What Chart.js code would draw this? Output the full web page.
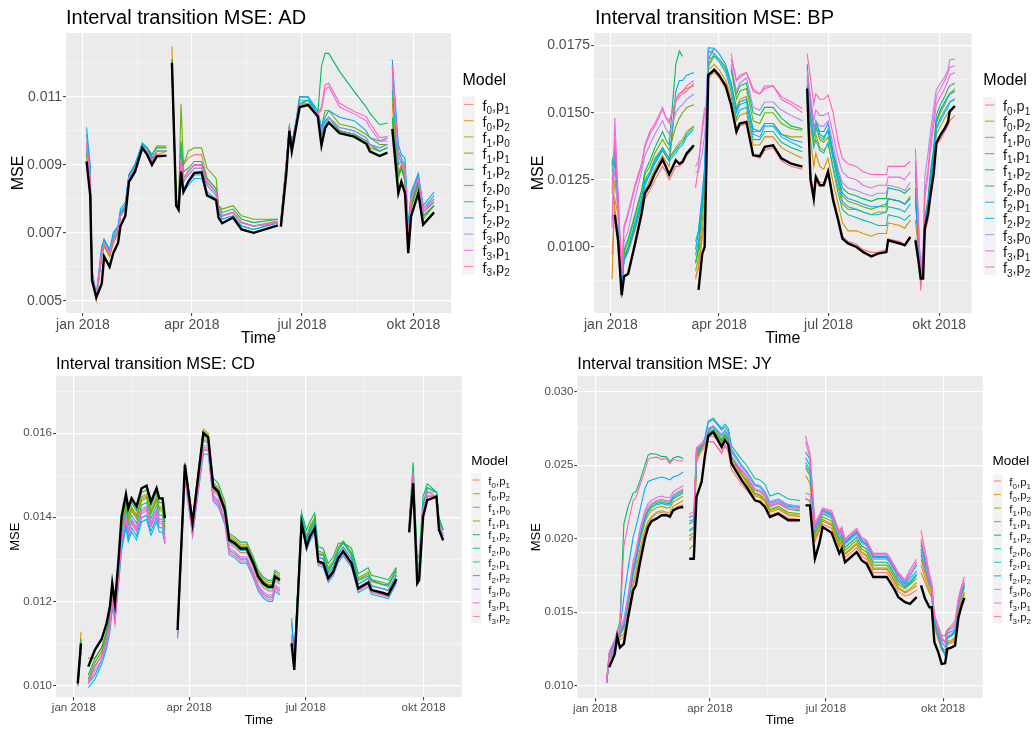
<!DOCTYPE html>
<html>
<head>
<meta charset="utf-8">
<script src="https://cdn.jsdelivr.net/npm/chart.js@4.4.1/dist/chart.umd.min.js"></script>
<style>
  body { margin: 0; background: #fff; width: 1035px; height: 729px; overflow: hidden; position: relative; }
  .panel { position: absolute; }
</style>
</head>
<body>
<div class="panel" style="left:0;top:0"><canvas id="chartAD" width="517" height="350"></canvas></div>
<div class="panel" style="left:517px;top:0"><canvas id="chartBP" width="518" height="350"></canvas></div>
<div class="panel" style="left:0;top:350px"><canvas id="chartCD" width="517" height="379"></canvas></div>
<div class="panel" style="left:517px;top:350px"><canvas id="chartJY" width="518" height="379"></canvas></div>
<script>
// x values are days since 1 jan 2018; null marks a break in the lines
const X_TICK_DAYS = [0, 90, 181, 273];
const X_TICK_LABELS = ['jan 2018', 'apr 2018', 'jul 2018', 'okt 2018'];
const X_MINOR_DAYS = [45, 135.5, 227];

const MODEL_F = ['0', '0', '1', '1', '1', '2', '2', '2', '3', '3', '3'];
const MODEL_P = ['1', '2', '0', '1', '2', '0', '1', '2', '0', '1', '2'];
const MODEL_COLORS = ['#F8766D', '#DB8E00', '#AEA200', '#64B200', '#00BD5C', '#00C1A7',
                      '#00BADE', '#00A6FF', '#B385FF', '#EF67EB', '#FF63B6'];

// ---- AD ----
const AD_Y_TICKS = [0.005, 0.007, 0.009, 0.011];
const AD_Y_MINOR = [0.006, 0.008, 0.010, 0.012];
const AD_DAYS = [3,6,7.5,11,15.5,17.5,22,25,29,31,35,38,43,49,53,57,61,69, 71,
  73.5,77,79,81,83,87,92,98,102.5,110,112,115,124,131,141,161, 162.5,
  163.5,168,170.5,172.5,176.5,179,186,194,197,200,203,212,224,234,237,245,251.5, 253.5,
  255.5,260.5,263,266,268.7,271,277,281,290];
const AD_BLACK = [.0091,.0081,.0056,.0051,.0055,.0063,.0060,.0064,.0067,.0072,.0075,.0085,.0088,.0095,.0093,.0090,.00925,.00927,null,
  .0120,.0078,.00768,.0088,.0082,.0085,.00876,.00878,.0081,.00796,.00745,.00728,.00745,.0071,.0070,.00722,null,
  .00718,.00875,.0100,.0094,.0102,.0107,.01076,.01042,.00957,.01008,.01025,.00993,.00983,.00962,.0094,.00926,.00936,null,
  .01006,.00817,.0085,.00817,.0064,.00748,.00817,.00724,.0076];
const AD_F0P1 = [.0094,.0085,.0058,.0051,.0064,.0067,.0064,.0067,.0070,.0075,.0077,.0086,.0089,.0096,.0094,.0091,.0094,.0094,null,
  .0119,.0079,.0078,.0093,.0090,.0092,.0093,.0093,.0086,.0083,.0077,.0075,.0076,.0073,.0072,.00735,null,
  .0073,.0089,.0101,.0095,.0103,.0108,.0108,.0104,.0099,.0102,.0104,.0100,.0099,.0097,.0095,.0094,.0095,null,
  .0114,.0088,.0090,.0087,.0068,.0079,.0085,.0076,.0079];
const AD_F0P2 = [.0093,.0084,.0057,.0050,.0063,.0066,.0063,.0067,.0070,.0075,.0077,.0086,.0089,.0095,.0094,.0091,.0093,.0094,null,
  .01248,.0079,.0078,.0094,.0086,.0088,.0090,.0090,.0085,.0082,.0077,.0075,.0076,.0073,.0072,.0073,null,
  .0073,.0090,.01015,.0095,.0103,.0108,.0109,.0105,.0099,.0102,.0104,.0100,.0099,.0097,.0096,.0094,.0095,null,
  .0108,.0087,.0090,.0086,.0067,.0078,.0085,.0075,.0078];
const AD_F1P0 = [.0093,.0084,.0057,.0051,.0063,.0066,.0063,.0067,.0070,.0075,.0077,.0086,.0089,.0095,.0094,.0091,.0094,.0094,null,
  .0119,.0079,.0078,.0092,.0086,.0088,.0090,.0090,.0085,.0082,.0077,.0075,.0076,.0073,.0072,.0073,null,
  .0073,.0089,.0101,.0095,.0103,.0108,.0108,.0105,.0099,.0102,.0104,.0100,.0099,.0097,.0095,.0094,.0095,null,
  .0110,.0087,.0089,.0086,.0067,.0078,.0084,.0075,.0078];
const AD_F1P1 = [.0094,.0085,.0058,.0051,.0063,.0067,.0064,.0068,.0071,.0075,.0078,.0087,.0090,.0096,.0095,.0093,.00955,.00955,null,
  .0121,.0080,.0078,.0108,.0090,.0094,.0095,.0095,.0089,.0086,.0078,.0077,.0078,.0075,.0074,.0074,null,
  .0074,.0091,.0101,.0096,.0103,.0108,.0108,.0105,.0101,.0106,.0106,.0102,.0101,.0099,.0098,.0096,.0096,null,
  .0103,.0086,.0089,.0085,.0066,.0077,.0084,.0074,.0078];
const AD_F1P2 = [.0094,.0085,.0058,.0051,.0064,.0067,.0064,.0068,.0071,.0075,.0078,.0087,.0090,.0096,.0095,.0093,.0095,.0095,null,
  .0121,.0080,.0078,.0097,.0088,.0089,.0091,.0091,.0086,.0083,.0078,.0076,.0077,.0074,.0073,.0074,null,
  .0074,.0090,.0101,.0096,.0103,.0108,.0109,.0105,.0119,.01228,.01228,.01175,.01116,.0107,.01052,.01018,.01023,null,
  .0104,.0087,.0089,.0086,.0067,.0078,.0085,.0075,.0078];
const AD_F2P0 = [.0095,.0086,.0058,.0051,.0064,.0068,.0065,.0068,.0071,.0076,.0078,.0087,.0090,.00965,.0095,.0092,.0094,.0094,null,
  .0120,.0079,.0077,.0091,.0085,.0087,.0089,.0089,.0084,.0081,.0076,.0075,.0076,.0073,.0072,.0073,null,
  .0073,.0090,.0101,.0096,.0103,.0109,.0109,.0105,.0099,.0102,.0104,.0100,.0099,.0097,.0096,.0094,.0095,null,
  .0112,.0090,.0091,.0089,.0069,.0080,.0086,.0076,.0079];
const AD_F2P1 = [.0099,.0088,.0059,.0051,.0065,.0068,.0065,.0069,.0072,.0076,.0078,.0087,.0090,.0096,.0095,.0092,.0094,.0094,null,
  .0119,.0078,.0077,.0090,.0083,.0085,.0087,.0087,.0082,.0080,.0076,.0074,.0075,.0072,.0071,.0073,null,
  .0073,.0091,.0101,.0096,.0104,.0110,.0110,.0105,.0100,.0103,.0104,.0101,.0100,.0098,.0096,.0095,.0096,null,
  .0118,.0094,.0092,.0090,.0071,.0081,.0087,.0077,.0081];
const AD_F2P2 = [.0101,.0090,.0059,.0052,.0066,.0068,.0065,.0070,.0072,.0077,.0079,.0087,.0090,.0096,.0095,.0092,.0094,.0094,null,
  .0119,.0078,.0077,.0089,.0082,.0084,.0086,.0086,.0081,.0080,.0076,.0074,.0075,.0072,.0071,.0073,null,
  .0073,.0091,.0101,.0096,.0104,.0110,.0110,.0106,.0101,.0104,.0106,.0104,.0103,.0100,.0098,.0097,.00978,null,
  .0121,.0096,.0093,.0092,.0072,.0082,.00875,.0078,.0082];
const AD_F3P0 = [.0095,.0085,.0058,.0051,.0064,.0067,.0064,.0068,.0071,.0075,.0077,.0086,.0089,.0095,.0094,.0091,.0094,.0094,null,
  .0119,.0079,.0078,.0091,.0085,.0087,.0089,.0089,.0084,.0081,.0077,.0075,.0076,.0073,.0072,.0073,null,
  .0073,.0090,.0101,.0095,.0103,.0108,.0108,.0105,.0100,.0102,.0104,.0101,.0100,.0098,.0096,.0095,.0096,null,
  .0117,.0091,.0091,.0088,.0069,.0080,.0086,.0076,.0080];
const AD_F3P1 = [.0096,.0086,.0058,.0051,.0064,.0067,.0064,.0068,.0071,.0075,.0077,.0086,.0089,.0095,.0094,.0091,.0094,.0094,null,
  .0118,.0079,.0078,.0092,.0086,.0088,.0090,.0090,.0085,.0082,.0077,.0075,.0076,.0073,.0072,.0073,null,
  .0073,.0090,.0101,.0095,.0103,.0108,.0108,.0105,.0106,.0112,.0113,.0107,.0105,.0103,.0101,.0097,.0097,null,
  .0119,.0092,.0091,.0088,.0069,.0080,.0086,.0076,.0080];
const AD_F3P2 = [.0097,.0087,.0058,.0051,.0064,.0067,.0064,.0068,.0071,.0075,.0077,.0086,.0089,.0095,.0094,.0091,.0094,.0094,null,
  .0118,.0079,.0078,.0092,.0086,.0088,.0090,.0090,.0085,.0082,.0077,.0075,.0076,.0073,.0072,.0073,null,
  .0073,.0090,.0101,.0095,.0103,.0108,.0108,.0105,.0107,.01135,.0114,.01081,.01057,.01042,.01023,.0098,.00983,null,
  .0119,.0093,.0091,.0089,.0069,.0080,.0086,.0077,.0080];

// ---- BP ----
const BP_Y_TICKS = [0.0100, 0.0125, 0.0150, 0.0175];
const BP_Y_MINOR = [0.00875, 0.01125, 0.01375, 0.01625];
const BP_DAYS = [1,3.3,6,9,11,14.4,20,25.5,28.3,32.4,36.6,43,45.7,48.5,54,57,59.6,63,69, 69.7,
  70.4,72.9,76,78,81,86,90,95.5,100,104.4,107.2,112.7,118.3,123.8,128,134.9,141.8,150,159.3, 161,
  163.2,166,168.7,170.4,173.7,177,180.6,184.8,189,192.5,197.2,204.2,209.7,216.6,222,229.1,230.5,240.2,244.3,249, 251,
  253.2,255.4,257.6,259.6,261,263.7,265.7,268.4,270.6,274,277.6,280.3,281.7,286];
const BP_BLACK = [null,.0112,.01025,.0082,.0089,.0090,.0101,.01124,.0120,.0123,.01274,.01326,.0130,.0127,.01323,.0131,.01317,.01348,.01379,null,
  null,.0084,.00975,.0100,.0164,.0166,.0164,.0160,.0153,.0143,.0146,.01466,.01342,.01338,.01373,.01379,.0133,.0131,.01299,null,
  .0159,.0125,.0118,.0126,.0123,.0123,.0128,.01174,.0110,.01031,.01013,.0100,.00981,.00965,.00975,.00981,.01025,.01013,.01006,.01037,null,
  .01025,.0096,.00882,.00882,.0107,.01124,.01193,.01274,.01386,.01417,.01442,.01466,.01504,.01525];
const BP_F0P1 = [.0097,.0115,.0105,.0086,.0089,.0090,.0100,.0111,.0118,.0121,.0125,.0130,.0128,.0125,.0130,.0130,.0131,.0134,.0137,null,
  .0089,.0092,.0103,.0110,.0163,.0165,.0163,.0159,.0152,.0142,.0145,.0146,.0134,.0133,.0136,.0137,.0132,.0130,.0129,null,
  .0152,.0128,.0120,.0127,.0124,.0124,.0129,.0119,.0111,.0104,.0102,.0101,.0099,.0098,.0098,.0099,.0103,.0102,.0101,.0104,null,
  .0103,.0098,.0089,.0090,.0105,.0110,.0118,.0127,.0138,.0140,.0143,.0145,.0147,.0149];
const BP_F0P2 = [.0088,.0118,.0112,.0087,.0095,.0098,.0106,.0115,.0121,.0125,.0129,.0134,.0132,.0130,.0155,.0157,.0158,.0159,.0160,null,
  .0088,.0093,.0106,.0115,.0166,.0168,.0166,.0162,.0156,.0147,.0149,.0150,.0138,.0138,.0141,.0141,.0137,.0135,.0133,null,
  .0155,.0140,.0130,.0135,.0130,.0129,.0133,.0124,.0116,.0109,.0106,.0106,.0105,.0104,.0105,.0105,.0109,.0108,.0107,.0110,null,
  .0110,.0100,.0090,.0091,.0106,.0112,.0121,.0130,.0142,.0145,.0148,.0150,.0151,.0152];
const BP_F1P0 = [.0110,.0125,.0115,.0089,.0097,.0100,.0108,.0117,.0124,.0127,.0132,.0137,.0135,.0133,.0137,.0139,.0140,.0143,.0145,null,
  .0091,.0096,.0110,.0120,.0167,.0171,.0170,.0167,.0161,.0152,.0155,.0156,.0143,.0143,.0146,.0146,.0142,.0141,.0141,null,
  .0160,.0148,.0138,.0142,.0137,.0136,.0138,.0130,.0122,.0116,.0114,.0114,.0113,.0112,.0113,.0113,.0118,.0117,.0116,.0118,null,
  .0118,.0104,.0091,.0093,.0108,.0115,.0125,.0134,.0146,.0150,.0153,.0156,.0157,.0159];
const BP_F1P1 = [.0131,.0136,.0118,.0083,.0098,.0102,.0111,.0120,.0127,.0130,.0135,.0140,.0138,.0136,.0145,.0148,.0150,.0152,.0153,null,
  .0094,.0099,.0115,.0125,.0168,.0172,null,null,.0166,.0155,.0158,.0159,.0147,.0146,.0150,.0150,.0146,.0144,.01435,null,
  .0163,.0150,.0141,.0145,.0140,.0139,.0141,.0133,.0125,.0119,.0117,.0116,.0115,.0114,.0115,.0115,.0118,.0117,.0116,.0119,null,
  .0122,.0106,.0091,.0094,.0109,.0116,.0126,.0135,.0147,.0151,.0154,.0156,.0157,.0158];
const BP_F1P2 = [.0131,.0137,.0118,.0081,.0099,.0103,.0112,.0121,.0128,.0132,.0137,.0143,.0140,.0138,.0168,.0173,.0171,null,null,null,
  .0094,.0100,.0117,.0127,.0170,.0174,null,null,.0167,.0157,.0160,.0161,.0150,.0149,.0152,.0152,.0148,.0145,.0144,null,
  .0168,.0152,.0144,.0147,.0142,.0141,.0143,.0135,.0128,.0122,.0120,.0119,.0118,.0117,.0118,.0118,.0122,.0121,.0120,.0122,null,
  .0128,.0108,.0092,.0095,.0111,.0118,.0128,.0137,.0149,.0153,.0156,.0159,.0160,.0161];
const BP_F2P0 = [.0125,.0132,.0116,.0085,.0096,.0100,.0109,.0118,.0125,.0128,.0133,.0137,.0135,.0133,.0136,.0138,.0139,.0142,.0145,null,
  .0097,.0102,.0115,.0124,.0170,.0171,.0169,.0165,.0158,.0148,.0151,.0152,.0140,.0140,.0143,.0143,.0139,.0137,.01355,null,
  .0158,.0146,.0137,.0140,.0136,.0135,.0139,.0129,.0120,.0114,.0112,.0111,.0110,.0109,.0108,.0108,.0112,.0111,.0110,.0112,null,
  .0120,.0104,.0090,.0092,.0107,.0114,.0123,.0132,.0144,.0148,.0151,.0153,.0154,.0155];
const BP_F2P1 = [.0128,.0133,.0116,.0085,.0096,.0099,.0108,.0117,.0124,.0127,.0132,.0136,.0134,.0132,.0135,.0137,.0138,.0141,.0144,null,
  .0102,.0106,.0118,.0128,.0173,.0172,.0170,.0166,.0160,.0150,.0153,.0154,.0142,.0141,.0145,.0145,.0141,.0139,.0137,null,
  .0160,.0150,.0141,.0144,.0141,.0140,.0144,.0133,.0124,.0117,.0115,.0114,.0113,.0112,.0112,.0113,.0115,.0114,.0113,.0116,null,
  .0117,.0103,.0090,.0092,.0107,.0114,.0123,.0132,.0144,.0147,.0150,.0152,.0154,.0155];
const BP_F2P2 = [.0130,.0134,.0117,.0086,.0095,.0099,.0107,.0116,.0123,.0127,.0131,.0136,.0134,.0132,.0158,.0162,.0162,.0164,.0165,null,
  .0099,.0106,.0120,.0130,.01742,.0174,.0172,.0168,.0161,.0151,.0154,.0155,.0144,.0143,.0146,.0146,.0142,.0140,.0139,null,
  .0162,.0155,.0143,.0146,.0143,.0143,.0146,.0135,.0126,.0120,.0118,.0117,.0116,.0115,.0115,.0116,.0118,.0117,.0116,.0118,null,
  .0119,.0105,.0091,.0093,.0108,.0116,.0126,.0135,.0147,.0151,.0154,.0156,.0157,.0158];
const BP_F3P0 = [.0122,.0128,.0112,.0088,.0102,.0106,.0118,.0128,.0134,.0138,.0142,.0147,.0144,.0142,.0150,.0152,.0153,.0155,.0157,null,
  .0128,.0128,.0135,.0142,.0172,.0174,null,null,.0168,.0158,.0161,.0163,.0152,.0151,.0154,.0154,.0151,.0149,.0147,null,
  .0164,.0151,.0143,.0147,.0145,.0145,.0147,.0138,.0129,.0124,.0122,.0121,.0120,.0119,.0120,.0120,.0123,.0122,.0121,.0124,null,
  .0130,.0112,.0092,.0100,.0126,.0135,.0143,.0152,.01585,.0161,.01634,.0166,.01697,.0170];
const BP_F3P1 = [.0107,.0148,.0120,.0090,.0107,.0112,.0122,.0130,.0137,.0142,.0145,.0151,.0148,.0146,.0155,.0157,.0158,.0160,.0162,null,
  .0130,.0132,.0143,.0150,null,null,null,null,.0172,.0162,.0164,.0165,.0159,.0157,.0160,.0160,.0156,.0154,.01516,null,
  .0166,.0156,.0147,.0151,.0149,.0149,.0150,.0142,.0133,.0128,.0126,.0125,.0123,.0122,.0123,.0123,.0126,.0126,.0125,.0128,null,
  .01367,.0115,.0086,.0098,.0118,.0127,.0136,.0145,.0153,.0156,.0159,.0162,.0164,.0165];
const BP_F3P2 = [.0120,.0140,.0118,.0091,.0108,.0113,.0123,.0131,.0138,.0143,.0146,.0152,.01485,.0147,.0154,.0156,.0157,.0158,.0161,null,
  .0122,.0130,.0145,.0152,null,null,null,null,.0170,.0162,.0163,.0165,.0158,.0157,.0159,.0160,.0155,.0153,.0150,null,
  .0172,.0163,.0153,.0157,.0155,.0155,.01566,.0150,.0139,.0133,.0131,.0130,.0128,.0127,.0127,.0127,.0130,.0130,.0130,.0132,null,
  .0132,.0110,.00838,.0097,.0120,.0129,.0139,.0148,.0156,.0159,.0162,.0165,.0167,.01675];

// ---- CD ----
const CD_Y_TICKS = [0.010, 0.012, 0.014, 0.016];
const CD_Y_MINOR = [0.011, 0.013, 0.015, 0.017];
const CD_DAYS = [3,5.5, 8,
  11.2,16.4,21.6,25.5,28.1,29.9,32,34.6,37.2,40.6,42.4,45,48.9,52.8,56.7,60.1,64.5,66.6,69.2,71, 76,
  80.9,86.6,92.6,101,104.8,108.7,112.6,117.8,121.2,125.7,130,134.8,140,143.9,147.8,151.7,155,156.9,160.8, 165,
  169.9,172,177.7,181.6,184.2,188,190.7,194.6,198.5,202.4,206.3,210.2,216.7,221.9,229.7,232.3,241.4,245.3,251.8, 256,
  261.7,264.8,268,269.5,272.6,275.8,283,285,288.2];
const CD_BLACK = [.01005,.0110,null,
  .01045,.01085,.0111,.01148,.01188,.01243,.01196,.01291,.01402,.01455,.01422,.01445,.01426,.01469,.01475,.01437,.01469,.01445,.01445,.01398,null,
  .01132,.01525,.01386,.0160,.0159,.01473,.01461,.01418,.01346,.01338,.01326,.01326,.01291,.01259,.01243,.01235,.01235,.01259,.01251,null,
  .0110,.01037,.01386,.0133,.01354,.01374,.01295,.01291,.01255,.01271,.01303,.01319,.01291,.01231,.01245,.01227,.0122,.01216,.01253,null,
  .01364,.01481,.01243,.01251,.01402,.01441,.01449,.0137,.01345];
const CD_F0P1 = [.0100,.0109,null,
  .01015,.01055,.0108,.01118,.01158,.01213,.01166,.01261,.01352,.01405,.01372,.01395,.01376,.01419,.01425,.01387,.01419,.01395,.01395,.01348,null,
  .01122,.01515,.01376,.0159,.0158,.01463,.01451,.01408,.01336,.01328,.01316,.01316,.01281,.01249,.01233,.01225,.01225,.01249,.01241,null,
  .0112,.0105,.0139,.0134,.01364,.01384,.01305,.01301,.01265,.01281,.01313,.01329,.01301,.01241,.01255,.01237,.0123,.01226,.01263,null,
  .0137,.0150,.0125,.0126,.0141,.0145,.0145,.0138,.01355];
const CD_F0P2 = [.0100,.01128,null,
  .01065,.01065,.0109,.01128,.01168,.01243,.01176,.01271,.01382,.01435,.01402,.01425,.01406,.01449,.01455,.01417,.01449,.01425,.01425,.01378,null,
  .01142,.0153,.01396,.0161,.0160,.01483,.01471,.01428,.01356,.01348,.01336,.01336,.01301,.01269,.01253,.01245,.01245,.01269,.01261,null,
  .0111,.0106,.0140,.0135,.01374,.01394,.01315,.01311,.01275,.01291,.01323,.01339,.01311,.01251,.01265,.01247,.0124,.01236,.01273,null,
  .0138,.0150,.0127,.0128,.0142,.0147,.0146,.0139,.0137];
const CD_F1P0 = [.0100,.0111,null,
  .01065,.01065,.0109,.01128,.01168,.01223,.01176,.01271,.01372,.01425,.01392,.01415,.01396,.01439,.01445,.01407,.01439,.01415,.01415,.01368,null,
  .01137,.0153,.01391,.01605,.01595,.01478,.01466,.01423,.01351,.01343,.01331,.01331,.01296,.01264,.01248,.0124,.0124,.01264,.01256,null,
  .0111,.0106,.01395,.0135,.01374,.01394,.01315,.01311,.01275,.01291,.01323,.01339,.01311,.01251,.01265,.01247,.0124,.01236,.01273,null,
  .0138,.0150,.0127,.0128,.0142,.0146,.0146,.0139,.0137];
const CD_F1P1 = [.0101,.0110,null,
  .01015,.01055,.0108,.01118,.01158,.01213,.01166,.01261,.01377,.0143,.01397,.0142,.01401,.01444,.0145,.01412,.01444,.0142,.0142,.01373,null,
  .01135,.01527,.0139,.01603,.01593,.01478,.01466,.01423,.01351,.01343,.01331,.01331,.01296,.01264,.01248,.0124,.0124,.01264,.01256,null,
  .0111,.0106,.0140,.01355,.01379,.01399,.0132,.01316,.0128,.01296,.01328,.01344,.01316,.01256,.0127,.01252,.01245,.01241,.01278,null,
  .0138,.0151,.0128,.0129,.0143,.0147,.0146,.0139,.0137];
const CD_F1P2 = [.0101,.0111,null,
  .01025,.01065,.0109,.01128,.01168,.01223,.01176,.01271,.01392,.01445,.01412,.01435,.01416,.01459,.01465,.01427,.01459,.01435,.01435,.01388,null,
  .0114,.01527,.01396,.01595,.01588,.01493,.01481,.01438,.01361,.01353,.01341,.01341,.01306,.01274,.01258,.0125,.0125,.01274,.01266,null,
  .0111,.0106,.0141,.0137,.0139,.0141,.0133,.01326,.0129,.01306,.01338,.0134,.01326,.01266,.0128,.01262,.01255,.01251,.01281,null,
  .0139,.0153,.0130,.0131,.0145,.0148,.0146,.0140,.0137];
const CD_F2P0 = [.0100,.0110,null,
  .01005,.01045,.0107,.01108,.01148,.01203,.01156,.01251,.01362,.01415,.01382,.01405,.01386,.01429,.01435,.01397,.01429,.01405,.01405,.01358,null,
  .01132,.0152,.01386,.01585,.01575,.01468,.01456,.01413,.01341,.01333,.01321,.01321,.01286,.01254,.01238,.0123,.0123,.01254,.01246,null,
  .0112,.0106,.0141,.0135,.0137,.0139,.0131,.0131,.0127,.0129,.0132,.0134,.0131,.0125,.0126,.0125,.0124,.0124,.0127,null,
  .0138,.0151,.0128,.0129,.0143,.0147,.0146,.0139,.0137];
const CD_F2P1 = [.0100,.0108,null,
  .00995,.01015,.0105,.01088,.01128,.01183,.01156,.01231,.01322,.01375,.01342,.01365,.01346,.01389,.01395,.01357,.01389,.01365,.01365,.01338,null,
  .01112,.0149,.01356,.0155,.0155,.01438,.01426,.01383,.01311,.01303,.01291,.01291,.01256,.01224,.01208,.012,.012,.01224,.01216,null,
  .0116,.0108,.01385,.0132,.01344,.01364,.01285,.01281,.01245,.01261,.01293,.01309,.01281,.01221,.01235,.01217,.0121,.01206,.01243,null,
  .0137,.0150,.0125,.0126,.0141,.0145,.0145,.0138,.01355];
const CD_F2P2 = [.0100,.0108,null,
  .01005,.01025,.0106,.01098,.01138,.01193,.01166,.01241,.01332,.01385,.01352,.01375,.01356,.01399,.01405,.01367,.01399,.01375,.01375,.01338,null,
  .0112,.015,.01366,.0156,.0156,.01448,.01436,.01393,.01321,.01313,.01301,.01301,.01266,.01234,.01218,.0121,.0121,.01234,.01226,null,
  .0115,.0107,.0139,.0134,.01364,.01384,.01305,.01301,.01265,.01281,.01313,.01329,.01301,.01241,.01255,.01237,.0123,.01226,.01263,null,
  .0137,.0150,.0126,.0127,.0141,.0145,.0145,.0138,.0136];
const CD_F3P0 = [.0100,.0109,null,
  .01005,.01045,.0107,.01108,.01148,.01203,.01156,.01251,.01352,.01405,.01372,.01395,.01376,.01419,.01425,.01387,.01419,.01395,.01395,.01348,null,
  .01122,.0151,.01366,.0157,.0157,.01453,.01441,.01398,.01326,.01318,.01306,.01306,.01271,.01239,.01223,.01215,.01215,.01239,.01231,null,
  .0112,.0105,.0138,.0133,.0135,.0137,.0129,.0129,.01255,.0127,.0130,.0132,.0129,.0123,.01245,.01227,.0122,.01216,.01253,null,
  .0137,.0150,.0126,.0127,.0142,.0146,.0145,.0138,.0136];
const CD_F3P1 = [.0100,.0109,null,
  .01005,.01035,.0106,.01098,.01138,.01193,.01146,.01241,.01342,.01395,.01362,.01385,.01366,.01409,.01415,.01377,.01409,.01385,.01385,.01338,null,
  .0112,.015,.01356,.0156,.0156,.01443,.01431,.01388,.01316,.01308,.01296,.01296,.01261,.01229,.01213,.01205,.01205,.01229,.01221,null,
  .0112,.0105,.0138,.01325,.0135,.0137,.0129,.01286,.0125,.01266,.01298,.01314,.01286,.01226,.0124,.01222,.01215,.01211,.01248,null,
  .0137,.0151,.0126,.0127,.0142,.0146,.0145,.0138,.0135];
const CD_F3P2 = [.0100,.0109,null,
  .0101,.01045,.0107,.01108,.01148,.01203,.01156,.01251,.01347,.0140,.01367,.0139,.01371,.01414,.0142,.01382,.01414,.0139,.0139,.01343,null,
  .01115,.0150,.01361,.01565,.01565,.01448,.01436,.01393,.01321,.01313,.01301,.01301,.01266,.01234,.01218,.0121,.0121,.01234,.01226,null,
  .0111,.0104,.0138,.01325,.01349,.01369,.0129,.01286,.0125,.01266,.01298,.01314,.01286,.01226,.0124,.01222,.01215,.01211,.01248,null,
  .0137,.0150,.0125,.0126,.0141,.0145,.0145,.0138,.0135];

// ---- JY ----
const JY_Y_TICKS = [0.010, 0.015, 0.020, 0.025, 0.030];
const JY_Y_MINOR = [0.0125, 0.0175, 0.0225, 0.0275];
const JY_DAYS = [9,11,15.4,17.3,19.4,22.5,25.9,29.8,32,35,39,41.6,44.2,48.1,52.1,56,58.6,61.2,65.1,69.1, 71.5,
  73.8,77.4,79.5,83.5,86,88.7,92.6,99.2,101.8,104.4,107,114.9,118.8,125.3,129.3,133.2,137.1,143.6,151.5,160.6, 163,
  165,168.5,172.4,175.8,178.4,185.5,191.5,193.4,196,205.1,209.1,212.9,218.2,228.7,231.3,235.2,237.8,243.1,247,252.2, 254,
  255.6,258.8,262.2,264,266.1,269.2,271.8,274.5,276.3,279.7,282.3,285,287.5,289.6];
const JY_BLACK = [null,.01125,.01216,.01334,.0126,.01284,.01466,.01648,.01682,.0183,.0200,.0208,.0212,.02136,.0216,.0216,.0215,.02193,.0221,.02216,null,
  .01864,.01864,.02284,.02386,.02557,.02698,.02727,.02625,.0267,.0264,.02511,.02398,.02352,.02261,.0225,.02216,.02148,.0217,.02125,.02125,null,
  .02227,.02227,.01864,.01966,.0208,.0204,.0190,.01932,.0184,.01909,.01852,.0183,.01739,.01739,.01705,.01648,.01602,.01568,.01557,.01602,null,
  .01682,.01591,.01534,.01534,.01295,.01227,.01148,.01152,.0125,.01261,.01273,.01466,.01545,.01598];
const JY_F0P1 = [.0102,.0117,.0124,.0133,.0131,.0133,.0149,.0168,.0174,.0189,.0204,.0210,.0214,.0217,.0218,.0217,.0216,.0220,.0222,.0223,null,
  .0199,.0200,.0252,.0260,.0262,.0266,.0266,.0258,.0263,.0259,.0247,.0237,.0233,.0226,.0226,.0223,.0216,.0218,.0214,.0213,null,
  .0228,.0225,.0198,.0205,.0210,.0207,.0194,.0196,.0187,.0194,.0188,.0186,.0177,.0177,.0174,.0168,.0164,.0161,.0162,.0165,null,
  .0182,.0173,.0164,.0160,.0140,.0131,.0124,.0122,.0128,.0129,.0130,.0150,.0157,.0162];
const JY_F0P2 = [.0102,.0118,.0126,.0131,.0134,.0139,.0155,.0175,.0183,.0197,.0211,.0216,.0219,.0221,.0222,.0221,.0221,.0225,.0227,.0229,null,
  .0200,.0202,.0254,.0261,.0264,.0271,.0273,.0265,.0269,.0266,.0253,.0243,.0238,.0229,.0228,.0225,.0218,.0220,.0216,.0215,null,
  .0243,.0238,.0200,.0206,.0212,.0209,.0195,.0198,.0189,.0196,.0190,.0188,.0179,.0179,.0176,.0170,.0166,.0163,.0165,.0168,null,
  .0186,.0176,.0167,.0163,.0142,.0133,.0126,.0124,.0130,.0131,.0133,.0152,.0159,.0164];
const JY_F1P0 = [.0102,.0117,.0125,.0130,.0133,.0135,.0150,.0170,.0178,.0192,.0206,.0212,.0215,.0218,.0219,.0218,.0218,.0222,.0224,.0226,null,
  .0193,.0196,.0255,.0262,.0265,.0273,.0276,.0268,.0271,.0268,.0255,.0244,.0239,.0230,.0229,.0226,.0219,.0221,.0217,.0216,null,
  .0227,.0226,.0201,.0207,.0213,.0210,.0196,.0199,.0190,.0197,.0191,.0189,.0180,.0180,.0177,.0171,.0167,.0164,.0166,.0170,null,
  .0177,.0170,.0163,.0160,.0141,.0132,.0125,.0123,.0129,.0130,.0132,.0151,.0158,.0163];
const JY_F1P1 = [.0102,.0119,.0127,.0132,.0136,.0142,.0158,.0180,.0188,.0202,.0215,.0220,.0223,.0225,.0226,.0225,.0225,.0229,.0231,.0233,null,
  .0202,.0204,.0256,.0262,.0265,.0272,.0274,.0266,.0270,.0267,.0255,.0244,.0240,.0231,.0230,.0227,.0220,.0222,.0218,.0217,null,
  .0248,.0243,.0203,.0209,.0215,.0212,.0198,.0201,.0192,.0199,.0193,.0191,.0182,.0182,.0179,.0173,.0169,.0166,.0169,.0173,null,
  .0189,.0179,.0169,.0165,.0144,.0136,.0129,.0127,.0133,.0134,.0136,.0155,.0162,.0167];
const JY_F1P2 = [.0102,.0122,.0131,.0137,.0143,.0210,.0222,.0231,.0232,.0239,.0250,.0257,.0258,.02575,.0256,.02557,.02523,.0255,.0256,.02545,null,
  .0210,.0212,.0258,.0263,.0266,.0272,.0274,.0267,.0271,.0268,.0256,.0246,.0242,.0233,.0232,.0229,.0222,.0224,.0220,.0219,null,
  .0259,.0254,.0205,.0211,.0217,.0214,.0200,.0203,.0194,.0201,.0195,.0193,.0184,.0184,.0181,.0175,.0171,.0167,.0170,.0175,null,
  .0198,.0186,.0173,.0168,.0148,.0140,.0134,.0134,.0138,.0139,.0141,.0158,.0165,.0170];
const JY_F2P0 = [.0102,.0119,.0127,.0132,.0136,.0141,.0157,.0178,.0186,.0200,.0214,.0219,.0222,.0224,.0225,.0224,.0224,.0228,.0230,.0232,null,
  .0206,.0208,.0258,.0264,.0268,.0280,.0282,.0275,.0278,.0275,.0263,.0254,.0250,.0241,.0240,.0237,.0229,.0231,.0227,.0226,null,
  .0252,.0247,.0207,.0213,.0219,.0216,.0203,.0206,.0197,.0204,.0198,.0196,.0187,.0187,.0184,.0178,.0173,.0168,.0171,.0176,null,
  .0196,.0184,.0172,.0167,.0146,.0138,.0131,.0130,.0136,.0137,.0139,.0157,.0164,.0169];
const JY_F2P1 = [.0102,.0118,.0126,.0131,.0135,.0140,.0156,.0177,.0185,.0199,.0213,.0218,.0221,.0223,.0224,.0223,.0223,.0227,.0229,.0231,null,
  .0205,.0207,.0257,.0263,.0266,.0274,.0276,.0270,.0273,.0270,.0259,.0249,.0245,.0236,.0235,.0231,.0224,.0226,.0222,.0221,null,
  .0250,.0245,.0207,.0213,.0219,.0216,.0203,.0206,.0197,.0204,.0198,.0196,.0187,.0187,.0184,.0178,.0173,.0169,.0173,.0178,null,
  .0191,.0181,.0170,.0166,.0143,.0134,.0126,.0121,.0132,.0134,.0137,.0156,.0163,.0167];
const JY_F2P2 = [.0102,.0121,.0129,.0134,.0138,.0160,.0180,.0201,.0208,.0219,.0234,.0239,.0240,.0241,.0242,.0241,.0240,.0242,.0243,.02455,null,
  .0212,.0213,.0260,.0264,.0268,.0279,.0281,.0274,.0276,.0273,.0261,.0250,.0246,.0237,.0236,.0232,.0225,.0227,.0223,.0222,null,
  .0255,.0250,.0208,.0214,.0220,.0217,.0204,.0207,.0198,.0205,.0199,.0197,.0188,.0188,.0185,.0179,.0175,.0170,.0175,.0182,null,
  .0193,.0182,.0171,.0166,.0144,.0135,.0127,.0120,.0133,.0135,.0138,.0156,.0164,.0168];
const JY_F3P0 = [.0102,.0119,.0127,.0132,.0137,.0143,.0160,.0182,.0190,.0204,.0217,.0222,.0224,.0226,.0227,.0226,.0226,.0230,.0232,.0234,null,
  .0215,.0216,.0261,.0264,.0267,.0275,.0277,.0271,.0274,.0271,.0260,.0250,.0246,.0237,.0236,.0232,.0225,.0227,.0223,.0222,null,
  .0231,.0230,.0206,.0212,.0218,.0215,.0202,.0205,.0196,.0203,.0197,.0195,.0186,.0186,.0183,.0177,.0172,.0168,.0173,.0178,null,
  .0192,.0182,.0171,.0167,.0146,.0137,.0130,.0126,.0135,.0137,.0139,.0157,.0165,.0170];
const JY_F3P1 = [.0103,.0120,.0128,.0133,.0138,.0145,.0162,.0185,.0192,.0206,.0219,.0224,.0226,.0228,.0229,.0228,.0228,.0232,.0234,.0236,null,
  .0217,.0218,.0262,.0265,.0266,.0269,.0270,.0264,.0268,.0265,.0255,.0247,.0243,.0234,.0233,.0230,.0223,.0225,.0221,.0221,null,
  .0266,.0255,.0209,.0215,.0220,.0218,.0204,.0207,.0199,.0206,.0200,.0198,.0189,.0189,.0186,.0180,.0176,.0171,.0177,.0184,null,
  .0200,.0188,.0174,.0169,.0147,.0139,.0132,.0129,.0137,.0139,.0142,.0159,.0167,.0172];
const JY_F3P2 = [.0104,.0123,.0131,.0136,.0140,.0195,.0210,.0226,.0228,.0236,.0246,.0254,.0255,.02555,.0254,.02545,.0251,.0254,.0253,.0253,null,
  .0214,.0216,.0261,.0264,.0265,.0266,.0266,.0259,.0264,.0261,.0252,.0246,.0242,.0233,.0232,.0229,.0222,.0224,.0220,.0220,null,
  .0270,.0258,.0211,.0216,.0221,.0219,.0205,.0208,.0200,.0207,.0201,.0199,.0190,.0190,.0187,.0181,.0177,.0172,.0179,.0186,null,
  .02057,.0192,.0176,.0170,.0148,.0140,.0133,.0130,.0138,.0141,.0144,.0160,.0168,.0174];

const FONT = '"Liberation Sans", Arial, sans-serif';

// text sizes for the two rows of panels
const TOP_STYLE = { title: 20, tick: 14, axisTitle: 16, legendTitle: 16, legendText: 14.5, legendSub: 10 };
const BOTTOM_STYLE = { title: 16.5, tick: 11.5, axisTitle: 13, legendTitle: 13.5, legendText: 11.5, legendSub: 8 };

const PANELS = [
  { canvas: 'chartAD', title: 'Interval transition MSE: AD', days: AD_DAYS, black: AD_BLACK,
    series: [AD_F0P1, AD_F0P2, AD_F1P0, AD_F1P1, AD_F1P2, AD_F2P0, AD_F2P1, AD_F2P2, AD_F3P0, AD_F3P1, AD_F3P2],
    yTicks: AD_Y_TICKS, yMinor: AD_Y_MINOR, yMin: 0.00464, yMax: 0.01288, digits: 3, xMin: -14, xMax: 304,
    style: TOP_STYLE, area: { left: 66, top: 33, right: 451, bottom: 313 }, yTitlePad: 9, xTitlePad: 1.5,
    titlePos: { x: 66, y: 18.5 },
    legend: { x: 462.5, titleY: 80.5, keyW: 12.5, firstY: 104.5, step: 16.2, textX: 482.5 } },
  { canvas: 'chartBP', title: 'Interval transition MSE: BP', days: BP_DAYS, black: BP_BLACK,
    series: [BP_F0P1, BP_F0P2, BP_F1P0, BP_F1P1, BP_F1P2, BP_F2P0, BP_F2P1, BP_F2P2, BP_F3P0, BP_F3P1, BP_F3P2],
    yTicks: BP_Y_TICKS, yMinor: BP_Y_MINOR, yMin: 0.00754, yMax: 0.01797, digits: 4, xMin: -14, xMax: 300,
    style: TOP_STYLE, area: { left: 77, top: 33, right: 454.7, bottom: 313 }, yTitlePad: 12, xTitlePad: 1.5,
    titlePos: { x: 78, y: 18.5 },
    legend: { x: 466.3, titleY: 80.5, keyW: 12.5, firstY: 105, step: 16.2, textX: 486 } },
  { canvas: 'chartCD', title: 'Interval transition MSE: CD', days: CD_DAYS, black: CD_BLACK,
    series: [CD_F0P1, CD_F0P2, CD_F1P0, CD_F1P1, CD_F1P2, CD_F2P0, CD_F2P1, CD_F2P2, CD_F3P0, CD_F3P1, CD_F3P2],
    yTicks: CD_Y_TICKS, yMinor: CD_Y_MINOR, yMin: 0.00972, yMax: 0.01736, digits: 3, xMin: -14, xMax: 302.7,
    style: BOTTOM_STYLE, area: { left: 56, top: 26, right: 461.7, bottom: 347.3 }, yTitlePad: 7.5, xTitlePad: 1.2,
    titlePos: { x: 56, y: 14 },
    legend: { x: 471.3, titleY: 111, keyW: 10, firstY: 130, step: 13.65, textX: 488.3 } },
  { canvas: 'chartJY', title: 'Interval transition MSE: JY', days: JY_DAYS, black: JY_BLACK,
    series: [JY_F0P1, JY_F0P2, JY_F1P0, JY_F1P1, JY_F1P2, JY_F2P0, JY_F2P1, JY_F2P2, JY_F3P0, JY_F3P1, JY_F3P2],
    yTicks: JY_Y_TICKS, yMinor: JY_Y_MINOR, yMin: 0.00914, yMax: 0.03107, digits: 3, xMin: -14, xMax: 304,
    style: BOTTOM_STYLE, area: { left: 60.3, top: 26, right: 465.7, bottom: 348.3 }, yTitlePad: 11.4, xTitlePad: 1.2,
    titlePos: { x: 60.3, y: 14 },
    legend: { x: 475.5, titleY: 111, keyW: 10, firstY: 131, step: 13.55, textX: 492.3 } }
];

function isIn(list, v) {
  return list.some(t => Math.abs(t - v) < 1e-9);
}

function toPoints(days, values) {
  if (days.length !== values.length) console.warn('length mismatch', days.length, values.length);
  return days.map((d, i) => ({ x: d, y: values[i] }));
}

// grey panel, title and the "Model" legend in the ggplot look
const ggDecor = {
  id: 'ggDecor',
  beforeDraw(chart, args, opts) {
    const { ctx, chartArea: a } = chart;
    ctx.save();
    ctx.fillStyle = '#EBEBEB';
    ctx.fillRect(a.left, a.top, a.right - a.left, a.bottom - a.top);
    ctx.restore();
  },
  afterDraw(chart, args, opts) {
    const ctx = chart.ctx;
    const s = opts.style;
    const L = opts.legend;
    ctx.save();
    ctx.fillStyle = '#000';
    ctx.textAlign = 'left';
    ctx.textBaseline = 'middle';
    ctx.font = s.title + 'px ' + FONT;
    ctx.fillText(opts.title, opts.titlePos.x, opts.titlePos.y);

    ctx.font = s.legendTitle + 'px ' + FONT;
    ctx.fillText('Model', L.x, L.titleY);

    const n = MODEL_F.length;
    ctx.fillStyle = '#F2F2F2';
    ctx.fillRect(L.x, L.firstY - L.step / 2, L.keyW, L.step * n);

    ctx.textBaseline = 'alphabetic';
    for (let i = 0; i < n; i++) {
      const y = L.firstY + i * L.step;
      ctx.globalAlpha = 0.8;
      ctx.strokeStyle = MODEL_COLORS[i];
      ctx.lineWidth = 1.2;
      ctx.beginPath();
      ctx.moveTo(L.x + 1.5, y);
      ctx.lineTo(L.x + L.keyW - 1.5, y);
      ctx.stroke();
      ctx.globalAlpha = 1;

      // f<sub>,p<sub>
      const base = y + s.legendText * 0.42;
      const subBase = base + s.legendText * 0.26;
      let x = L.textX;
      ctx.fillStyle = '#1A1A1A';
      ctx.font = s.legendText + 'px ' + FONT;
      ctx.fillText('f', x, base); x += ctx.measureText('f').width;
      ctx.font = s.legendSub + 'px ' + FONT;
      ctx.fillText(MODEL_F[i], x, subBase); x += ctx.measureText(MODEL_F[i]).width;
      ctx.font = s.legendText + 'px ' + FONT;
      ctx.fillText(',p', x, base); x += ctx.measureText(',p').width;
      ctx.font = s.legendSub + 'px ' + FONT;
      ctx.fillText(MODEL_P[i], x, subBase);
    }
    ctx.restore();
  }
};

function buildChart(panel) {
  const el = document.getElementById(panel.canvas);
  const W = el.width, H = el.height;
  const a = panel.area;
  const s = panel.style;

  const datasets = panel.series.map((vals, i) => ({
    label: 'f' + MODEL_F[i] + ',p' + MODEL_P[i],
    data: toPoints(panel.days, vals),
    borderColor: MODEL_COLORS[i],
    borderWidth: 1.1,
    pointRadius: 0,
    tension: 0,
    spanGaps: false,
    order: MODEL_F.length - i
  }));
  datasets.push({
    label: 'f0,p0',
    data: toPoints(panel.days, panel.black),
    borderColor: '#000000',
    borderWidth: 2.4,
    pointRadius: 0,
    tension: 0,
    spanGaps: false,
    order: 0
  });

  const xAll = X_TICK_DAYS.concat(X_MINOR_DAYS).sort((p, q) => p - q);
  const yAll = panel.yTicks.concat(panel.yMinor).sort((p, q) => p - q);

  const gridStyle = (majors) => ({
    color: ctx => isIn(majors, ctx.tick.value) ? '#FFFFFF' : 'rgba(255,255,255,0.55)',
    lineWidth: ctx => isIn(majors, ctx.tick.value) ? 1.2 : 0.8,
    tickLength: 3,
    tickWidth: 1,
    tickColor: ctx => isIn(majors, ctx.tick.value) ? '#333333' : 'rgba(0,0,0,0)'
  });

  return new Chart(el, {
    type: 'line',
    data: { datasets },
    options: {
      responsive: false,
      animation: false,
      devicePixelRatio: 1,
      events: [],
      layout: { padding: { top: a.top, right: W - a.right, left: 0, bottom: 0 } },
      plugins: {
        legend: { display: false },
        title: { display: false },
        tooltip: { enabled: false },
        ggDecor: { title: panel.title, titlePos: panel.titlePos, legend: panel.legend, style: s }
      },
      scales: {
        x: {
          type: 'linear',
          min: panel.xMin,
          max: panel.xMax,
          afterBuildTicks: scale => { scale.ticks = xAll.map(v => ({ value: v })); },
          afterFit: scale => { scale.height = H - a.bottom; },
          ticks: {
            autoSkip: false, maxRotation: 0, minRotation: 0, padding: 1,
            color: '#4D4D4D', font: { family: FONT, size: s.tick },
            callback: v => {
              const k = X_TICK_DAYS.findIndex(d => Math.abs(d - v) < 1e-9);
              return k >= 0 ? X_TICK_LABELS[k] : '';
            }
          },
          grid: gridStyle(X_TICK_DAYS),
          border: { display: false },
          title: { display: true, text: 'Time', color: '#000', font: { family: FONT, size: s.axisTitle },
                   padding: { top: 0, bottom: panel.xTitlePad } }
        },
        y: {
          type: 'linear',
          min: panel.yMin,
          max: panel.yMax,
          afterBuildTicks: scale => { scale.ticks = yAll.map(v => ({ value: v })); },
          afterFit: scale => { scale.width = a.left; },
          ticks: {
            autoSkip: false, padding: 1,
            color: '#4D4D4D', font: { family: FONT, size: s.tick },
            callback: v => isIn(panel.yTicks, v) ? Number(v).toFixed(panel.digits) : ''
          },
          grid: gridStyle(panel.yTicks),
          border: { display: false },
          title: { display: true, text: 'MSE', color: '#000', font: { family: FONT, size: s.axisTitle },
                   padding: { top: panel.yTitlePad, bottom: 0 } }
        }
      }
    },
    plugins: [ggDecor]
  });
}

PANELS.forEach(buildChart);
</script>
</body>
</html>
